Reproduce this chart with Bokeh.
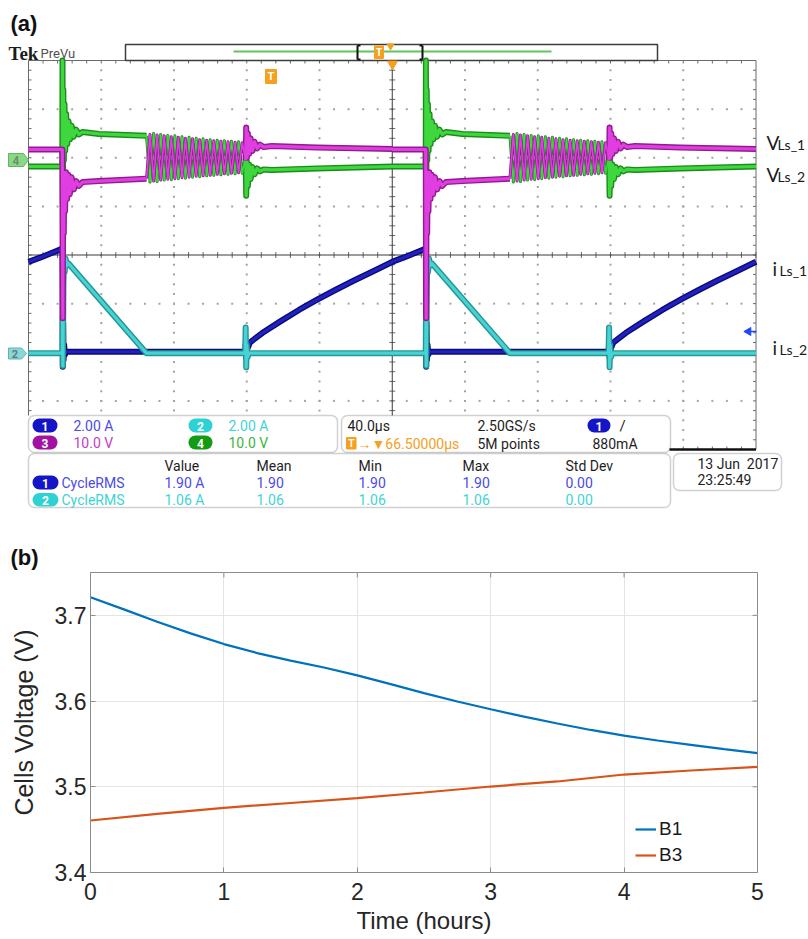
import numpy as np
from bokeh.plotting import figure
from bokeh.models import Range1d, BoxAnnotation, Legend, FixedTicker
from bokeh.core.properties import value
from bokeh.embed import file_html
from bokeh.resources import INLINE

# ======================= DATA =======================
# (a) oscilloscope capture: time in µs relative to each switching edge, level in divisions
SPIKE_TIMES_US = [18.7, 218.5]
PRE_TAU = [-18.7, -0.1]

# ch1  iLs_1 (dark blue)
CH1_TAU = [-18.7, -12.0, -6.0, -2.0, 0.0, 0.15, 0.35, 0.6, 0.9, 1.3, 2.0,
           100.5, 100.7, 101.0, 101.4, 103.0, 110.0, 120.0, 130.0, 140.0, 150.0, 160.0, 170.0, 181.5]
CH1_DIV = [-0.14, -0.05, 0.04, 0.10, 0.14, -2.30, -1.40, -2.15, -1.85, -2.05, -1.99,
           -1.99, -1.85, -2.10, -1.95, -1.80, -1.60, -1.36, -1.13, -0.92, -0.72, -0.53, -0.35, -0.14]

# ch2  iLs_2 (cyan)
CH2_TAU = [-18.7, -0.1, 0.05, 0.2, 0.5, 0.8, 1.2, 1.7, 2.4, 3.2, 46.2,
           100.4, 100.7, 101.0, 101.3, 101.8, 102.5, 181.5]
CH2_DIV = [-2.02, -2.02, -1.28, -2.28, -0.60, -0.15, -0.35, -0.07, -0.22, -0.17, -2.02,
           -2.02, -1.49, -2.31, -1.85, -2.10, -2.02, -2.02]

# ringing interval (shared time stamps, half cycles)
RING_TAU = [48.1, 50.1, 52.0, 54.0, 55.9, 57.9, 59.8, 61.8, 63.7, 65.7, 67.6, 69.6, 71.5, 73.5,
            75.4, 77.3, 79.3, 81.2, 83.2, 85.1, 87.1, 89.0, 91.0, 92.9, 94.9, 96.8, 98.8, 100.7]
POST_TAU = [101.0, 101.4, 101.9, 102.6, 103.4, 104.4, 105.6, 107.0, 108.6, 110.6, 115.0, 140.0, 181.5]

# ch4  VLs_2 (green)
G_PRE = [1.82, 1.82]
G_EDGE_TAU = [0.0, 0.2, 0.45, 0.75, 1.1, 1.5, 2.0, 2.6, 3.3, 4.1, 5.0, 6.1, 7.4, 9.0, 11.0, 20.0, 46.2]
G_EDGE = [4.00, 1.10, 3.40, 1.95, 3.10, 2.15, 2.90, 2.28, 2.75, 2.38, 2.66, 2.43, 2.58, 2.48, 2.53, 2.49, 2.45]
G_RING = [1.50, 2.50, 1.51, 2.48, 1.54, 2.46, 1.55, 2.45, 1.57, 2.43, 1.58, 2.42, 1.60, 2.40,
          1.61, 2.39, 1.63, 2.37, 1.64, 2.36, 1.65, 2.35, 1.66, 2.34, 1.67, 2.33, 1.68, 2.05]
G_POST = [1.22, 1.92, 1.42, 1.86, 1.56, 1.81, 1.66, 1.78, 1.72, 1.76, 1.75, 1.78, 1.82]

# ch3  VLs_1 (magenta)
M_PRE = [2.17, 2.17]
M_EDGE_TAU = [0.15, 0.4, 0.7, 1.0, 1.4, 1.9, 2.5, 3.2, 4.0, 5.0, 6.2, 7.5, 9.0, 11.0, 20.0, 46.2]
M_EDGE = [-1.30, 1.65, 0.45, 1.70, 0.90, 1.70, 1.15, 1.65, 1.25, 1.60, 1.35, 1.52, 1.42, 1.50, 1.52, 1.57]
M_RING = [2.48, 1.52, 2.47, 1.54, 2.45, 1.56, 2.43, 1.57, 2.42, 1.59, 2.40, 1.60, 2.39, 1.62,
          2.37, 1.63, 2.36, 1.64, 2.35, 1.66, 2.34, 1.67, 2.33, 1.68, 2.32, 1.69, 2.31, 1.95]
M_POST = [2.62, 2.00, 2.50, 2.08, 2.40, 2.14, 2.33, 2.19, 2.27, 2.22, 2.24, 2.21, 2.18]

# (b) cell voltages
B1_T = [0, 0.25, 0.5, 0.75, 1.0, 1.25, 1.5, 1.75, 2.0, 2.25, 2.5, 2.75, 3.0, 3.25, 3.5, 3.75, 4.0, 4.25, 4.5, 4.75, 5.0]
B1_V = [3.7212, 3.7070, 3.6925, 3.6790, 3.6665, 3.6560, 3.6472, 3.6392, 3.6300, 3.6198, 3.6093,
        3.5995, 3.5905, 3.5818, 3.5738, 3.5663, 3.5597, 3.5540, 3.5490, 3.5440, 3.5392]
B3_T = [0, 0.5, 1.0, 1.5, 2.0, 2.5, 3.0, 3.5, 4.0, 4.5, 5.0]
B3_V = [3.4607, 3.4683, 3.4755, 3.4811, 3.4867, 3.4933, 3.5003, 3.5062, 3.5143, 3.5190, 3.5233]
X_TICKS = [0, 1, 2, 3, 4, 5]
Y_TICKS = [3.4, 3.5, 3.6, 3.7]

# ======================= PANEL (a) =======================
W, HA, HB = 808, 571, 368
PX_PER_DIV_X = 72.75
PX_PER_DIV_Y = 48.625
US_PER_DIV = 40.0
GX0 = 28.0
GYC = 254.5
KX = US_PER_DIV / PX_PER_DIV_X
KY = 1.0 / PX_PER_DIV_Y
T_END = 10 * US_PER_DIV
RING_LO, RING_HI = 46.2, 100.7
FS = 14  # readout font size


def sx(px):
    return (px - GX0) * KX


def sy(py):
    return (GYC - py) * KY


pA = figure(width=W, height=HA, x_range=Range1d(sx(0), sx(W)), y_range=Range1d(sy(HA), sy(0)),
            x_axis_type=None, y_axis_type=None, toolbar_location=None, output_backend="svg",
            min_border=0, outline_line_color=None, background_fill_color="white", border_fill_color="white")


def box(x0, x1, y0, y1, fill="white", line="#666666", lw=1.5, r=6):
    pA.add_layout(BoxAnnotation(left=sx(x0), right=sx(x1), top=sy(y0), bottom=sy(y1),
                                fill_color=fill, fill_alpha=1.0, line_color=line, line_width=lw,
                                border_radius=r, level="underlay"))


def txt(px, py, s, color="#1e1e1e", size=FS, font="Roboto", style="normal", align="left", baseline="middle"):
    pA.text(x=[sx(px)], y=[sy(py)], text=[s], text_font=value(font), text_font_size=value(f"{size}px"),
            text_font_style=style, text_color=color, text_align=align, text_baseline=baseline)


# readout boxes
box(28, 337, 415, 452)
box(341, 670, 415, 452)
box(28, 670, 453, 507)
box(673, 781, 453, 490)

# pills
C1, C2, C3, C4 = "#1515c8", "#2fd2d2", "#a112a1", "#139b13"
T1, T2, T3, T4 = "#4b4be6", "#3ed4d4", "#c43cc4", "#3cb43c"
PILLS = [(32, 57, 418, 432, C1, "1"), (188, 212, 418, 432, C2, "2"),
         (32, 57, 435, 449, C3, "3"), (188, 212, 435, 449, C4, "4"),
         (587, 610, 418, 432, C1, "1"),
         (32, 58, 475, 489, C1, "1"), (32, 58, 492.5, 506, C2, "2")]
for (a, b, c, d, col, lab) in PILLS:
    box(a, b, c, d, fill=col, line=None, r=7)

# graticule dots
y_cut = sy(414.0)
x_cut = sx(671.0)
X_MAJ = np.arange(0, 11) * US_PER_DIV
Y_MAJ = np.arange(-4, 5)
dx, dy = [], []
for xv in X_MAJ[1:-1]:
    if abs(xv - T_END / 2) < 1e-6:
        continue
    for yv in np.arange(-4, 4.001, 0.2)[1:-1]:
        if yv > y_cut or xv > x_cut:
            dx.append(xv); dy.append(yv)
for yv in Y_MAJ[1:-1]:
    if yv == 0:
        continue
    for xv in np.arange(0, T_END + 0.01, US_PER_DIV / 5)[1:-1]:
        if yv > y_cut or xv > x_cut:
            dx.append(xv); dy.append(yv)
pA.scatter(dx, dy, marker="square", size=2, fill_color="#a4a4a4", line_color=None)

# graticule ticks
L = 3.0
x0s, y0s, x1s, y1s = [], [], [], []


def seg(a, b, c, d):
    x0s.append(a); y0s.append(b); x1s.append(c); y1s.append(d)


for xv in np.arange(0, T_END + 0.01, US_PER_DIV / 5):
    seg(xv, -L * KY, xv, L * KY)
    if 0 < xv < T_END:
        seg(xv, 4, xv, 4 - L * KY)
    if x_cut < xv < T_END:
        seg(xv, -4, xv, -4 + L * KY)
for yv in np.arange(-4, 4.001, 0.2):
    if yv > y_cut:
        seg(T_END / 2 - L * KX, yv, T_END / 2 + L * KX, yv)
        if -3.99 < yv < 3.99:
            seg(0, yv, L * KX, yv)
    if -3.99 < yv < 3.99:
        seg(T_END, yv, T_END - L * KX, yv)
pA.segment(x0s, y0s, x1s, y1s, line_color="#6a6a6a", line_width=1)

# borders & centre lines
pA.segment([0, 0, T_END], [4, 4, 4], [T_END, 0, T_END], [4, sy(415), -4], line_color="#6a6a6a", line_width=1)
pA.segment([T_END / 2, 0], [4, 0], [T_END / 2, T_END], [sy(415), 0], line_color="#3a3a3a", line_width=1)
pA.segment([sx(669)], [-4], [T_END], [-4], line_color="#111111", line_width=2.5)

# record bar at top
pA.quad(left=[sx(125)], right=[sx(657)], top=[sy(44)], bottom=[sy(60)], fill_color="white",
        line_color="#3c3c3c", line_width=1.5)
pA.segment([sx(233)], [sy(51)], [sx(551)], [sy(51)], line_color="#5cc85c", line_width=2)
pA.segment([sx(357), sx(357), sx(357), sx(422), sx(422), sx(422)],
           [sy(45), sy(45), sy(59), sy(45), sy(45), sy(59)],
           [sx(357), sx(360), sx(360), sx(422), sx(419), sx(419)],
           [sy(59), sy(45), sy(59), sy(59), sy(45), sy(59)], line_color="#111111", line_width=2)
ORANGE = "#f5a01e"
pA.quad(left=[sx(374), sx(265)], right=[sx(383), sx(276)], top=[sy(45.5), sy(69)], bottom=[sy(58), sy(83)],
        fill_color=ORANGE, line_color=ORANGE)
pA.scatter([sx(390), sx(392)], [sy(45.5), sy(63.5)], marker="inverted_triangle", size=[7, 10],
           fill_color=ORANGE, line_color=ORANGE)
txt(378.5, 52, "T", "white", 10, style="bold", align="center")
txt(270.5, 76, "T", "white", 11, style="bold", align="center")

# channel ground tags
pA.patch([sx(v) for v in (8, 23, 28, 23, 8)], [sy(v) for v in (153, 153, 159.5, 166, 166)],
         fill_color="#88d888", line_color="#62b462")
pA.patch([sx(v) for v in (8, 21, 26, 21, 8)], [sy(v) for v in (347.5, 347.5, 353, 358.5, 358.5)],
         fill_color="#8ad7d7", line_color="#5fb3b3")
txt(15.5, 160, "4", "#6f8f6f", 12, style="bold", align="center")
txt(14.5, 353.5, "2", "#5d7d7d", 11, style="bold", align="center")

# trigger level arrow
pA.segment([sx(748)], [sy(331)], [sx(756)], [sy(331)], line_color="#1e46ff", line_width=1.5)
pA.scatter([sx(748)], [sy(331)], marker="triangle", angle=np.pi / 2, size=8,
           fill_color="#1e46ff", line_color="#1e46ff")


# traces (thick for steady parts, thin for the ringing interval)
def draw_trace(tau, lev, core, edge, ringing=False):
    tau = np.asarray(tau, dtype=float)
    lev = np.asarray(lev, dtype=float)
    if ringing:
        parts = [(tau <= RING_LO, 6, 3.2), (tau >= RING_HI, 6, 3.2),
                 ((tau >= RING_LO) & (tau <= RING_HI), 3.0, 1.6)]
    else:
        parts = [(np.ones_like(tau, dtype=bool), 6, 3.2)]
    for mask, we, wc in parts:
        for t0 in SPIKE_TIMES_US:
            pA.line(tau[mask] + t0, lev[mask], line_color=edge, line_width=we, line_join="round")
    for mask, we, wc in parts:
        for t0 in SPIKE_TIMES_US:
            pA.line(tau[mask] + t0, lev[mask], line_color=core, line_width=wc, line_join="round")


CH3_TAU = PRE_TAU + M_EDGE_TAU + RING_TAU + POST_TAU
CH3_DIV = M_PRE + M_EDGE + M_RING + M_POST
CH4_TAU = PRE_TAU + G_EDGE_TAU + RING_TAU + POST_TAU
CH4_DIV = G_PRE + G_EDGE + G_RING + G_POST

draw_trace(CH1_TAU, CH1_DIV, "#2020c4", "#0b0b70")
draw_trace(CH2_TAU, CH2_DIV, "#47d3d3", "#259595")
draw_trace(CH4_TAU, CH4_DIV, "#3ed83e", "#1d8a1d", ringing=True)
draw_trace(CH3_TAU, CH3_DIV, "#e03ee0", "#8e1c8e", ringing=True)

# texts
txt(10, 23, "(a)", "#111111", 22, font="Liberation Sans", style="bold")
txt(10, 557, "(b)", "#111111", 22, font="Liberation Sans", style="bold")
txt(8, 53, "Tek", "#1c1c1c", 19, font="Liberation Serif", style="bold")
txt(40, 53, "PreVu", "#505050", 13)

for (a, b, c, d, col, lab) in PILLS:
    txt((a + b) / 2, (c + d) / 2 + 0.5, lab, "white", 12, style="bold", align="center")

txt(73, 425, "2.00 A", T1)
txt(228, 425, "2.00 A", T2)
txt(73, 442, "10.0 V", T3)
txt(228, 442, "10.0 V", T4)

txt(347, 425, "40.0µs")
pA.quad(left=[sx(346)], right=[sx(355.5)], top=[sy(437)], bottom=[sy(448.5)], fill_color=ORANGE, line_color=ORANGE)
txt(350.8, 443, "T", "white", 10, style="bold", align="center")
txt(357, 443, "\u2192\u25bc66.50000µs", ORANGE)
txt(477, 425, "2.50GS/s")
txt(477, 443, "5M points")
txt(619, 425, "/", "#1e1e1e", 15)
txt(592, 443, "880mA")

for xh, h in zip([164, 256, 358, 462, 565], ["Value", "Mean", "Min", "Max", "Std Dev"]):
    txt(xh, 465, h)
txt(61, 482, "CycleRMS", T1)
txt(61, 499, "CycleRMS", T2)
for xh, v1, v2 in zip([164, 256, 358, 462, 565], ["1.90 A", "1.90", "1.90", "1.90", "0.00"],
                      ["1.06 A", "1.06", "1.06", "1.06", "0.00"]):
    txt(xh, 482, v1, T1)
    txt(xh, 499, v2, T2)
txt(697, 463, "13 Jun\u00a0 2017")
txt(697, 479, "23:25:49")

# right-hand trace names (big letter + smaller subscript text)
for (big, xb, yb, xs_, ys_, sub) in [("V", 766, 142, 777, 144, "Ls_1"), ("V", 766, 174, 777, 176, "Ls_2"),
                                     ("i", 772, 268, 779, 270, "Ls_1"), ("i", 772, 347, 779, 349, "Ls_2")]:
    txt(xb, yb, big, "#1a1a1a", 19, font="Lato")
    txt(xs_, ys_, sub, "#1a1a1a", 14, font="Lato")

# ======================= PANEL (b) =======================
FRAME_W, FRAME_H = 667.0, 300.0
KXB = (5 - 0) / FRAME_W
KYB = (3.75 - 3.4) / FRAME_H
pB = figure(width=W, height=HB, x_range=Range1d(0, 5), y_range=Range1d(3.4, 3.75),
            toolbar_location=None, output_backend="svg",
            min_border_left=90, min_border_right=51, min_border_top=1, min_border_bottom=67,
            background_fill_color="white", border_fill_color="white")
pB.outline_line_color = "#8c8c8c"
for ax in (pB.xaxis[0], pB.yaxis[0]):
    ax.axis_line_color = "#8c8c8c"
    ax.major_tick_line_color = "#8c8c8c"
    ax.major_tick_in = 5
    ax.major_tick_out = 0
    ax.minor_tick_line_color = None
    ax.major_label_text_font = "Liberation Sans"
    ax.major_label_text_font_size = "23px"
    ax.major_label_text_color = "#262626"
    ax.axis_label_text_font = "Liberation Sans"
    ax.axis_label_text_font_style = "normal"
    ax.axis_label_text_color = "#262626"
pB.xaxis.ticker = FixedTicker(ticks=X_TICKS)
pB.yaxis.ticker = FixedTicker(ticks=Y_TICKS)
pB.xaxis.major_label_standoff = 10
pB.yaxis.major_label_standoff = 4
pB.xaxis.axis_label = "Time (hours)"
pB.xaxis.axis_label_text_font_size = "24px"
pB.xaxis.axis_label_standoff = 4
pB.yaxis.axis_label = "Cells Voltage (V)"
pB.yaxis.axis_label_text_font_size = "25px"
pB.yaxis.axis_label_standoff = 14
pB.grid.grid_line_color = "#e4e4e4"

# ticks on top and right edges (box style)
tx = [t for t in X_TICKS if 0 < t < 5]
pB.segment(tx, [3.75] * len(tx), tx, [3.75 - 5 * KYB] * len(tx), line_color="#8c8c8c")
ty = [t for t in Y_TICKS if 3.4 < t < 3.75]
pB.segment([5.0] * len(ty), ty, [5.0 - 5 * KXB] * len(ty), ty, line_color="#8c8c8c")

r1 = pB.line(B1_T, B1_V, line_color="#0072BD", line_width=2.2)
r3 = pB.line(B3_T, B3_V, line_color="#D95319", line_width=2.2)

leg = Legend(items=[("B1", [r1]), ("B3", [r3])], location=(545, 4), padding=0, margin=0, spacing=0,
             glyph_width=21, glyph_height=26, label_height=26, label_standoff=3,
             label_text_font="Liberation Sans", label_text_font_size="19px", label_text_color="#1a1a1a",
             border_line_color=None, background_fill_alpha=0.0)
pB.add_layout(leg)

open("out.html", "w").write(file_html([pA, pB], INLINE))
